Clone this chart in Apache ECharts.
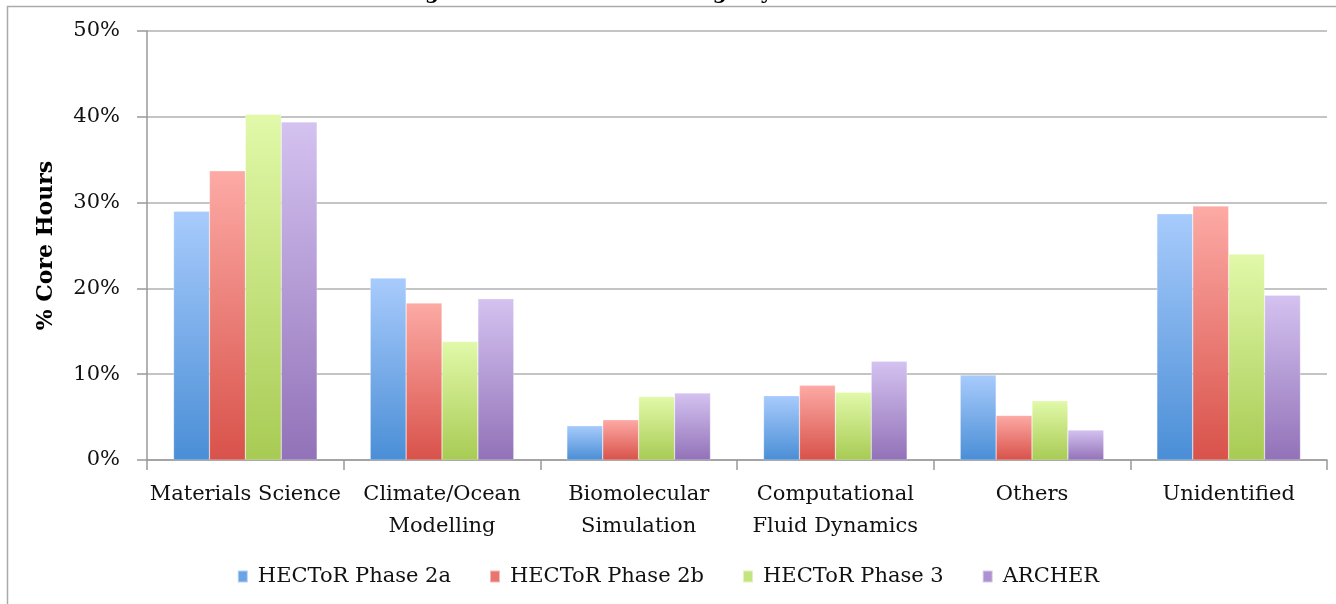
<!DOCTYPE html>
<html>
<head>
<meta charset="utf-8">
<script src="https://cdn.jsdelivr.net/npm/echarts@6/dist/echarts.min.js"></script>
<style>
  html, body { margin: 0; padding: 0; background: #fff; }
  #chart { width: 1336px; height: 604px; }
</style>
</head>
<body>
<div id="chart"></div>
<script>
// research areas
const categories = ['Materials Science', 'Climate/Ocean\nModelling', 'Biomolecular\nSimulation',
  'Computational\nFluid Dynamics', 'Others', 'Unidentified'];
const yTicks = [0, 10, 20, 30, 40, 50];

// % core hours per machine
const phase2a = [29.0, 21.2, 4.0, 7.5, 9.9, 28.7];
const phase2b = [33.7, 18.3, 4.7, 8.7, 5.2, 29.6];
const phase3 = [40.3, 13.8, 7.4, 7.9, 6.9, 24.0];
const archer = [39.4, 18.8, 7.8, 11.5, 3.5, 19.2];

const font = 'DejaVu Serif';

const grad = (top, bottom) => new echarts.graphic.LinearGradient(0, 0, 0, 1, [
  { offset: 0, color: top },
  { offset: 1, color: bottom },
]);

const series = [
  { name: 'HECToR Phase 2a', data: phase2a, color: grad('#a8cbfc', '#4a8ed6'), legendColor: '#6aa3e6' },
  { name: 'HECToR Phase 2b', data: phase2b, color: grad('#fdaaa5', '#d8524a'), legendColor: '#e9756e' },
  { name: 'HECToR Phase 3', data: phase3, color: grad('#e1f9a9', '#a8cb54'), legendColor: '#c4e47e' },
  { name: 'ARCHER', data: archer, color: grad('#d4c2f0', '#9272b8'), legendColor: '#ad92d2' },
];

const chart = echarts.init(document.getElementById('chart'));

const option = {
  animation: false,
  title: {
    text: 'Figure 1: Breakdown of usage by research area',
    left: 'center',
    top: -21,
    textStyle: { fontFamily: font, fontSize: 20, fontWeight: 'bold', color: '#000' },
  },
  graphic: [{
    type: 'rect',
    shape: { x: 7.5, y: 6.5, width: 1400, height: 700 },
    style: { fill: 'none', stroke: '#aaaaaa', lineWidth: 1.5 },
    silent: true,
  }],
  legend: {
    bottom: 12,
    left: 'center',
    itemWidth: 10,
    itemHeight: 12,
    itemGap: 38,
    icon: 'rect',
    textStyle: { fontFamily: font, fontSize: 21, color: '#111', padding: [0, 0, 0, 5] },
    data: series.map(s => ({ name: s.name, itemStyle: { color: s.legendColor } })),
  },
  grid: {
    left: 147,
    right: 9,
    top: 31,
    bottom: 144,
    containLabel: false,
  },
  xAxis: {
    type: 'category',
    data: categories,
    axisLine: { lineStyle: { color: '#999', width: 1.5 } },
    axisTick: { show: true, length: 10, lineStyle: { color: '#999', width: 1.5 } },
    axisLabel: {
      interval: 0,
      margin: 19,
      fontFamily: font,
      fontSize: 21,
      lineHeight: 32,
      color: '#111',
    },
  },
  yAxis: {
    type: 'value',
    min: 0,
    max: 50,
    interval: 10,
    name: '% Core Hours',
    nameLocation: 'middle',
    nameRotate: 90,
    nameGap: 90,
    nameTextStyle: { fontFamily: font, fontSize: 22, fontWeight: 'bold', color: '#000' },
    axisLine: { show: true, lineStyle: { color: '#999', width: 1.5 } },
    axisTick: { show: true, length: 10, lineStyle: { color: '#999', width: 1.5 } },
    splitLine: { lineStyle: { color: '#b0b0b0', width: 1.5 } },
    axisLabel: {
      margin: 27,
      fontFamily: font,
      fontSize: 21,
      color: '#111',
      formatter: v => (yTicks.includes(v) ? v + '%' : ''),
    },
  },
  series: series.map(s => ({
    name: s.name,
    type: 'bar',
    data: s.data,
    barGap: '0%',
    barCategoryGap: '27%',
    itemStyle: { color: s.color, borderColor: 'rgba(255,255,255,0.5)', borderWidth: 0.5 },
  })),
};

chart.setOption(option);
</script>
</body>
</html>
